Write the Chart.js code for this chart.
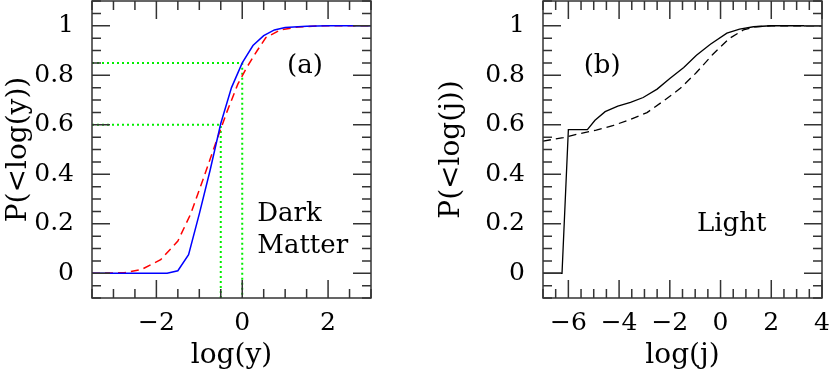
<!DOCTYPE html>
<html>
<head>
<meta charset="utf-8">
<script src="https://cdn.jsdelivr.net/npm/chart.js@4.4.1/dist/chart.umd.min.js"></script>
<style>
  body { margin: 0; background: #fff; }
  .panel { position: absolute; top: 0; }
</style>
</head>
<body>
<div class="panel" style="left:0"><canvas id="darkChart" width="415" height="377"></canvas></div>
<div class="panel" style="left:415px"><canvas id="lightChart" width="415" height="377"></canvas></div>
<script>
// ---- data ----
const darkX = [-3.5, -1.75, -1.5, -1.25, -1, -0.75, -0.5, -0.25, 0, 0.25, 0.5, 0.75, 1, 1.5, 2, 3];
const darkP = [0, 0, 0.01, 0.075, 0.24, 0.415, 0.605, 0.75, 0.85, 0.92, 0.96, 0.983, 0.993, 0.998, 1, 1];

const darkFitX = [-3.5, -2.75, -2.35, -1.9, -1.5, -1.2, -0.9, -0.6, -0.35, -0.1, 0.1, 0.35, 0.55, 0.9, 1.3, 1.8, 3];
const darkFitP = [0, 0.002, 0.015, 0.055, 0.13, 0.24, 0.385, 0.535, 0.655, 0.765, 0.83, 0.9, 0.952, 0.984, 0.995, 1, 1];

const guideX = [-0.5, 0];
const guideP = [0.6, 0.85];

const lightX = [-7, -6.25, -6, -5.25, -4.95, -4.55, -4.05, -3.55, -3.05, -2.5, -2, -1.45, -0.95, -0.4, 0.25, 0.75, 1.3, 2, 4];
const lightP = [0, 0, 0.58, 0.58, 0.618, 0.653, 0.675, 0.69, 0.71, 0.744, 0.787, 0.831, 0.881, 0.925, 0.97, 0.986, 0.996, 1, 1];

const lightFitX = [-7, -6.2, -5.55, -4.9, -4.25, -3.55, -2.9, -2.25, -1.6, -0.95, -0.3, 0.35, 0.9, 1.4, 2, 4];
const lightFitP = [0.534, 0.548, 0.564, 0.578, 0.596, 0.622, 0.649, 0.696, 0.746, 0.811, 0.885, 0.949, 0.983, 0.996, 1, 1];

const yTicks = [0, 0.2, 0.4, 0.6, 0.8, 1];
const darkXTicks = [-2, 0, 2];
const lightXTicks = [-6, -4, -2, 0, 2, 4];

const FONT = "'DejaVu Serif', serif";
const pts = (xs, ys) => xs.map((x, i) => ({ x: x, y: ys[i] }));
const fmt = (v) => (v < 0 ? "\u2212" + Math.abs(v) : String(v));

// frame box, inward ticks on all four sides, and text labels
const frameTicks = {
  id: "frameTicks",
  afterDatasetsDraw(chart, args, opts) {
    const { ctx, chartArea: a, scales: { x, y } } = chart;
    ctx.save();
    ctx.strokeStyle = "#333";
    ctx.lineWidth = 1.5;
    ctx.strokeRect(a.left, a.top, a.width, a.height);

    const each = (scale, step, major, fn) => {
      const i0 = Math.ceil(scale.min / step - 1e-9);
      const i1 = Math.floor(scale.max / step + 1e-9);
      for (let i = i0; i <= i1; i++) {
        const v = i * step;
        const r = v / major;
        fn(scale.getPixelForValue(v), Math.abs(r - Math.round(r)) < 1e-6);
      }
    };
    ctx.beginPath();
    each(x, opts.xMinor, opts.xMajor, (px, big) => {
      const len = big ? 18 : 9;
      ctx.moveTo(px, a.bottom); ctx.lineTo(px, a.bottom - len);
      ctx.moveTo(px, a.top); ctx.lineTo(px, a.top + len);
    });
    each(y, 0.05, 0.2, (py, big) => {
      const len = big ? 18 : 9;
      ctx.moveTo(a.left, py); ctx.lineTo(a.left + len, py);
      ctx.moveTo(a.right, py); ctx.lineTo(a.right - len, py);
    });
    ctx.stroke();

    ctx.fillStyle = "#000";
    ctx.font = "26px " + FONT;
    ctx.textBaseline = "alphabetic";
    (opts.labels || []).forEach((l) => {
      ctx.textAlign = l.align;
      ctx.fillText(l.text, x.getPixelForValue(l.x), y.getPixelForValue(l.y));
    });
    ctx.restore();
  }
};

function makeChart(id, cfg) {
  return new Chart(document.getElementById(id), {
    type: "scatter",
    data: { datasets: cfg.datasets },
    options: {
      responsive: false,
      animation: false,
      layout: { padding: { top: 1, right: cfg.right, left: 0, bottom: 0 } },
      plugins: {
        legend: { display: false },
        tooltip: { enabled: false },
        frameTicks: { xMinor: 0.5, xMajor: 2, labels: cfg.labels }
      },
      elements: { point: { radius: 0 }, line: { tension: 0 } },
      scales: {
        x: {
          type: "linear",
          min: cfg.xMin,
          max: cfg.xMax,
          grid: { display: false, drawTicks: false },
          border: { display: false },
          afterBuildTicks: (s) => { s.ticks = cfg.xTicks.map((v) => ({ value: v })); },
          afterFit: (s) => { s.height = 79; s.paddingLeft = 0; s.paddingRight = 0; },
          ticks: {
            padding: 10,
            color: "#000",
            font: { family: FONT, size: 25 },
            maxRotation: 0,
            callback: (v) => fmt(v)
          },
          title: {
            display: true,
            text: cfg.xTitle,
            color: "#000",
            font: { family: FONT, size: 28 },
            padding: { top: 0, bottom: 4 }
          }
        },
        y: {
          type: "linear",
          min: -0.1,
          max: 1.1,
          grid: { display: false, drawTicks: false },
          border: { display: false },
          afterBuildTicks: (s) => { s.ticks = yTicks.map((v) => ({ value: v })); },
          afterFit: (s) => { s.width = cfg.yWidth; s.paddingTop = 0; s.paddingBottom = 0; },
          ticks: {
            padding: 18,
            color: "#000",
            font: { family: FONT, size: 25 },
            callback: (v) => fmt(v)
          },
          title: {
            display: true,
            text: cfg.yTitle,
            color: "#000",
            font: { family: FONT, size: 28 },
            padding: { top: cfg.yTitlePad, bottom: 0 }
          }
        }
      }
    },
    plugins: [frameTicks]
  });
}

makeChart("darkChart", {
  xMin: -3.5, xMax: 3, xTicks: darkXTicks,
  xTitle: "log(y)", yTitle: "P(<log(y))",
  yWidth: 92, yTitlePad: 2, right: 44,
  labels: [
    { text: "(a)", x: 1.46, y: 0.81, align: "center" },
    { text: "Dark", x: 0.35, y: 0.21, align: "left" },
    { text: "Matter", x: 0.35, y: 0.081, align: "left" }
  ],
  datasets: [
    { data: pts(darkX, darkP), showLine: true, borderColor: "#0000ff", borderWidth: 1.5 },
    { data: pts(darkFitX, darkFitP), showLine: true, borderColor: "#ff0000", borderWidth: 1.5, borderDash: [8, 5] },
    { data: [{ x: -3.5, y: guideP[0] }, { x: guideX[0], y: guideP[0] }, { x: guideX[0], y: -0.1 }],
      showLine: true, borderColor: "#00ee00", borderWidth: 2, borderDash: [2, 3] },
    { data: [{ x: -3.5, y: guideP[1] }, { x: guideX[1], y: guideP[1] }, { x: guideX[1], y: -0.1 }],
      showLine: true, borderColor: "#00ee00", borderWidth: 2, borderDash: [2, 3] }
  ]
});

makeChart("lightChart", {
  xMin: -7, xMax: 4, xTicks: lightXTicks,
  xTitle: "log(j)", yTitle: "P(<log(j))",
  yWidth: 128, yTitlePad: 20, right: 8,
  labels: [
    { text: "(b)", x: -4.67, y: 0.81, align: "center" },
    { text: "Light", x: 0.44, y: 0.17, align: "center" }
  ],
  datasets: [
    { data: pts(lightX, lightP), showLine: true, borderColor: "#000", borderWidth: 1.3 },
    { data: pts(lightFitX, lightFitP), showLine: true, borderColor: "#000", borderWidth: 1.3, borderDash: [8, 5] }
  ]
});
</script>
</body>
</html>
